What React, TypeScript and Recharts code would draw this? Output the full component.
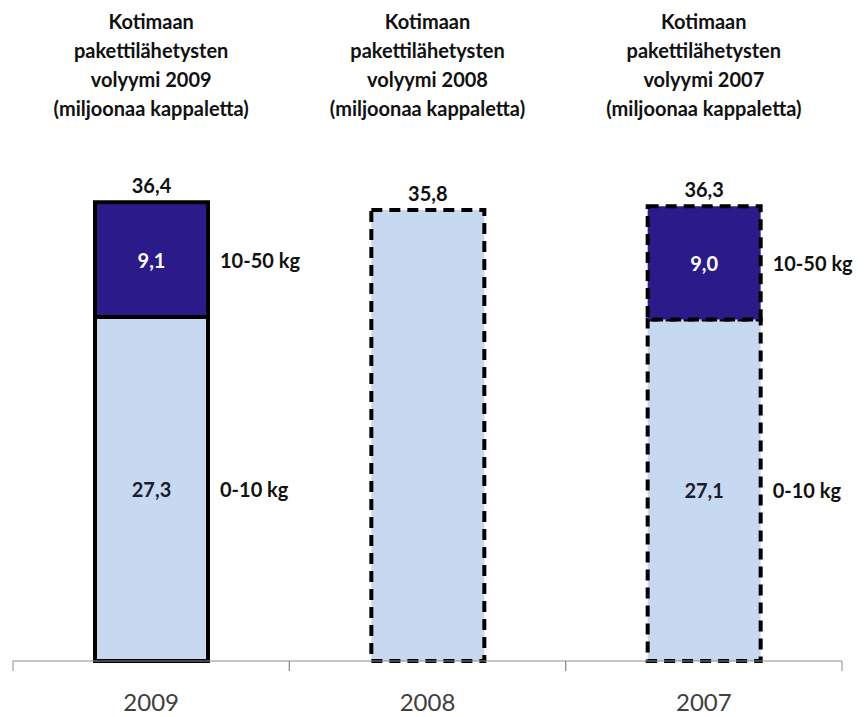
import { Bar, BarChart, Cell, LabelList, XAxis, YAxis } from "recharts";

const years = ["2009", "2008", "2007"];
const light = [27.3, 35.8, 27.1];
const heavy: (number | null)[] = [9.1, null, 9.0];
const totals = [36.4, 35.8, 36.3];
const titleLines = ["Kotimaan", "pakettilähetysten", "volyymi {year}", "(miljoonaa kappaletta)"];
const lightName = "0-10 kg";
const heavyName = "10-50 kg";

const data = years.map((year, i) => ({ year, light: light[i], heavy: heavy[i], total: totals[i] }));

const FONT = "Lato, 'Noto Sans', sans-serif";
const LIGHT = "#C6D9F0";
const DARK = "#2B1B8A";
const AXIS = "#8c8c8c";

const fmt = (v: number) => v.toFixed(1).replace(".", ",");
const dashFor = (year: string) => (year === "2009" ? undefined : "11 7");

function TitleTick(props: any) {
  const { x, y, payload } = props;
  return (
    <g>
      {titleLines.map((line, i) => (
        <text
          key={i}
          x={x}
          y={y - 128 + i * 29}
          textAnchor="middle"
          fontFamily={FONT}
          fontWeight={700}
          fontSize={20}
          fill="#111"
        >
          {line.replace("{year}", payload.value)}
        </text>
      ))}
    </g>
  );
}

// year label plus tick marks at the category edges (Excel style)
function YearTick(props: any) {
  const { x, y, payload } = props;
  const half = payload.offset || 0;
  return (
    <g>
      <line x1={x - half} x2={x - half} y1={y} y2={y + 10} stroke={AXIS} />
      <line x1={x + half} x2={x + half} y1={y} y2={y + 10} stroke={AXIS} />
      <text x={x} y={y + 50} textAnchor="middle" fontFamily={FONT} fontSize={24} fill="#404040">
        {payload.value}
      </text>
    </g>
  );
}

// label content keyed by year so skipped (null) segments don't shift rows
function segmentLabel(kind: "light" | "heavy") {
  return (props: any) => {
    const vb = props.viewBox || {};
    const x = props.x ?? vb.x;
    const y = props.y ?? vb.y;
    const width = props.width ?? vb.width;
    const height = props.height ?? vb.height;
    const row = data.find((d) => d.year === String(props.value));
    if (!row || row[kind] == null) return null;
    const split = row.heavy != null;
    const isTop = kind === "heavy" || !split;
    const cy = y + height / 2;
    return (
      <g fontFamily={FONT} fontWeight={700} fontSize={20}>
        {split && (
          <text x={x + width / 2} y={cy} textAnchor="middle" dominantBaseline="central" fill={kind === "heavy" ? "#fff" : "#1c1c2e"}>
            {fmt(row[kind] as number)}
          </text>
        )}
        {split && (
          <text x={x + width + 12} y={cy} dominantBaseline="central" fill="#111">
            {kind === "heavy" ? heavyName : lightName}
          </text>
        )}
        {isTop && (
          <text x={x + width / 2} y={y - 9} textAnchor="middle" fill="#111">
            {fmt(row.total)}
          </text>
        )}
      </g>
    );
  };
}

export default function App() {
  return (
    <BarChart
      width={848}
      height={709}
      data={data}
      margin={{ top: 0, right: 14, bottom: 55, left: 5 }}
      barSize={113}
    >
      <XAxis
        dataKey="year"
        height={1}
        axisLine={{ stroke: AXIS }}
        tickLine={false}
        tickSize={0}
        tickMargin={0}
        tick={<YearTick />}
      />
      <XAxis
        xAxisId="top"
        dataKey="year"
        orientation="top"
        height={149}
        axisLine={false}
        tickLine={false}
        tickSize={0}
        tickMargin={0}
        tick={<TitleTick />}
      />
      <YAxis hide domain={[0, 40]} />
      <Bar dataKey="light" stackId="a" fill={LIGHT} isAnimationActive={false}>
        {data.map((d) => (
          <Cell key={d.year} fill={LIGHT} stroke="#000" strokeWidth={4} strokeDasharray={dashFor(d.year)} />
        ))}
        <LabelList dataKey="year" content={segmentLabel("light")} />
      </Bar>
      <Bar dataKey="heavy" stackId="a" fill={DARK} isAnimationActive={false}>
        {data.map((d) => (
          <Cell key={d.year} fill={DARK} stroke="#000" strokeWidth={4} strokeDasharray={dashFor(d.year)} />
        ))}
        <LabelList dataKey="year" content={segmentLabel("heavy")} />
      </Bar>
    </BarChart>
  );
}
